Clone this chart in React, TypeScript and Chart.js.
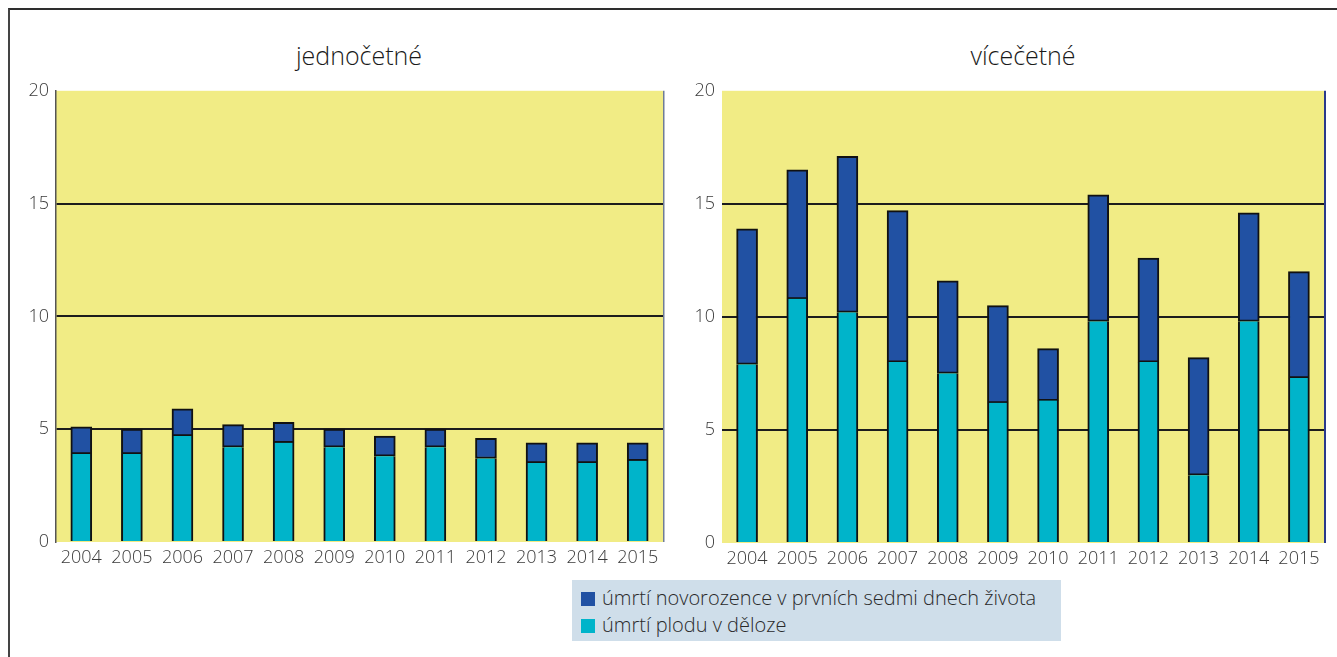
import React, { useEffect, useRef } from 'react';
import { Chart, registerables } from 'chart.js';

Chart.register(...registerables);

// Years on the category axis
const years = ['2004', '2005', '2006', '2007', '2008', '2009', '2010', '2011', '2012', '2013', '2014', '2015'];

// Singleton births (jednočetné): stillbirths and early neonatal deaths
const singleFetal = [3.9, 3.9, 4.7, 4.2, 4.4, 4.2, 3.8, 4.2, 3.7, 3.5, 3.5, 3.6];
const singleNeonatal = [1.2, 1.1, 1.2, 1.0, 0.9, 0.8, 0.9, 0.8, 0.9, 0.9, 0.9, 0.8];

// Multiple births (vícečetné)
const multiFetal = [7.9, 10.8, 10.2, 8.0, 7.5, 6.2, 6.3, 9.8, 8.0, 3.0, 9.8, 7.3];
const multiNeonatal = [6.0, 5.7, 6.9, 6.7, 4.1, 4.3, 2.3, 5.6, 4.6, 5.2, 4.8, 4.7];

// Value-axis ticks
const yTicks = [0, 5, 10, 15, 20];
const gridValues = [5, 10, 15];

// Panel titles and series names
const panelTitles = ['jednočetné', 'vícečetné'];
const neonatalLabel = 'úmrtí novorozence v prvních sedmi dnech života';
const fetalLabel = 'úmrtí plodu v děloze';

const NEONATAL_COLOR = '#2151a3';
const FETAL_COLOR = '#00b4ca';
const PLOT_FILL = '#f1ec85';
const FONT = "'Open Sans', sans-serif";

const CANVAS_TOP = 73;
const CANVAS_H = 500;

const plotFrame = {
  id: 'plotFrame',
  beforeDraw(chart: any, _args: any, opts: any) {
    const { ctx, chartArea: a } = chart;
    ctx.save();
    ctx.fillStyle = opts.fill;
    ctx.fillRect(a.left, a.top, a.right - a.left, a.bottom - a.top);
    ctx.restore();
  },
  afterDraw(chart: any, _args: any, opts: any) {
    const { ctx, chartArea: a } = chart;
    ctx.save();
    ctx.strokeStyle = opts.rightBorder;
    ctx.lineWidth = opts.rightWidth;
    ctx.beginPath();
    ctx.moveTo(a.right + opts.rightWidth / 2, a.top);
    ctx.lineTo(a.right + opts.rightWidth / 2, a.bottom);
    ctx.stroke();
    ctx.restore();
  },
};

type PanelProps = {
  fetal: number[];
  neonatal: number[];
  left: number;
  width: number;
  yWidth: number;
  padRight: number;
  xHeight: number;
  leftBorder: boolean;
  rightBorder: string;
  rightWidth: number;
};

function Panel(p: PanelProps) {
  const ref = useRef<HTMLCanvasElement | null>(null);
  useEffect(() => {
    if (!ref.current) return;
    const tickFont = { family: FONT, size: 18, weight: 300 as any };
    const chart = new Chart(ref.current, {
      type: 'bar',
      data: {
        labels: years,
        datasets: [
          {
            label: fetalLabel,
            data: p.fetal,
            backgroundColor: FETAL_COLOR,
            borderColor: '#111',
            borderWidth: { top: 0, left: 2, right: 2, bottom: 0 },
            borderSkipped: false,
            barThickness: 21,
          },
          {
            label: neonatalLabel,
            data: p.neonatal,
            backgroundColor: NEONATAL_COLOR,
            borderColor: '#111',
            borderWidth: 2,
            borderSkipped: false,
            barThickness: 21,
          },
        ],
      },
      options: {
        responsive: false,
        animation: false,
        devicePixelRatio: 1,
        layout: { padding: { top: 0, right: p.padRight, left: 0, bottom: 0 } },
        plugins: {
          legend: { display: false },
          tooltip: { enabled: false },
          plotFrame: { fill: PLOT_FILL, rightBorder: p.rightBorder, rightWidth: p.rightWidth },
        } as any,
        scales: {
          x: {
            stacked: true,
            grid: { display: false, drawTicks: false },
            border: { display: false },
            ticks: { font: tickFont, color: '#3a3a3a', padding: 5, maxRotation: 0, autoSkip: false },
            afterFit(scale: any) {
              scale.height = p.xHeight;
            },
          },
          y: {
            stacked: true,
            min: 0,
            max: 20,
            afterBuildTicks(scale: any) {
              scale.ticks = yTicks.map((v) => ({ value: v }));
            },
            grid: {
              drawTicks: false,
              lineWidth: 2,
              color: (c: any) => (c.tick && gridValues.includes(c.tick.value) ? '#1c1c1c' : 'rgba(0,0,0,0)'),
            },
            border: { display: p.leftBorder, color: '#555', width: 1.5 },
            ticks: { font: tickFont, color: '#3a3a3a', padding: 7 },
            afterFit(scale: any) {
              scale.width = p.yWidth;
            },
          },
        },
      },
      plugins: [plotFrame],
    });
    return () => chart.destroy();
  }, []);
  return (
    <canvas
      ref={ref}
      width={p.width}
      height={CANVAS_H}
      style={{ position: 'absolute', left: p.left, top: CANVAS_TOP, width: p.width, height: CANVAS_H }}
    />
  );
}

export default function App() {
  const titleStyle: React.CSSProperties = {
    position: 'absolute',
    top: 39,
    width: 400,
    textAlign: 'center',
    fontFamily: FONT,
    fontSize: 25,
    fontWeight: 300,
    lineHeight: '32px',
    color: '#1a1a1a',
  };
  const legendText: React.CSSProperties = {
    position: 'absolute',
    left: 30,
    fontFamily: FONT,
    fontSize: 20,
    fontWeight: 300,
    lineHeight: '27px',
    color: '#2a2a2a',
    whiteSpace: 'nowrap',
  };
  return (
    <div style={{ position: 'fixed', left: 0, top: 0, width: 1337, height: 657, overflow: 'hidden', background: '#fff' }}>
      <div
        style={{
          position: 'absolute',
          left: 8,
          top: 8,
          width: 1340,
          height: 660,
          borderTop: '2px solid #2e2e2e',
          borderLeft: '2px solid #444',
          boxSizing: 'border-box',
        }}
      />
      <div style={{ ...titleStyle, left: 359 - 200 }}>{panelTitles[0]}</div>
      <div style={{ ...titleStyle, left: 1023 - 200 }}>{panelTitles[1]}</div>
      <Panel
        fetal={singleFetal}
        neonatal={singleNeonatal}
        left={10}
        width={660}
        yWidth={46}
        padRight={7}
        xHeight={31}
        leftBorder={true}
        rightBorder="#6f7c98"
        rightWidth={1.5}
      />
      <Panel
        fetal={multiFetal}
        neonatal={multiNeonatal}
        left={675}
        width={662}
        yWidth={47}
        padRight={13}
        xHeight={30}
        leftBorder={false}
        rightBorder="#2a3a8c"
        rightWidth={2}
      />
      <div style={{ position: 'absolute', left: 572, top: 580, width: 489, height: 61, background: '#cfdeea' }}>
        <div style={{ position: 'absolute', left: 9, top: 12, width: 14, height: 14, background: NEONATAL_COLOR }} />
        <div style={{ ...legendText, top: 4 }}>{neonatalLabel}</div>
        <div style={{ position: 'absolute', left: 9, top: 39, width: 14, height: 14, background: FETAL_COLOR }} />
        <div style={{ ...legendText, top: 31 }}>{fetalLabel}</div>
      </div>
    </div>
  );
}
